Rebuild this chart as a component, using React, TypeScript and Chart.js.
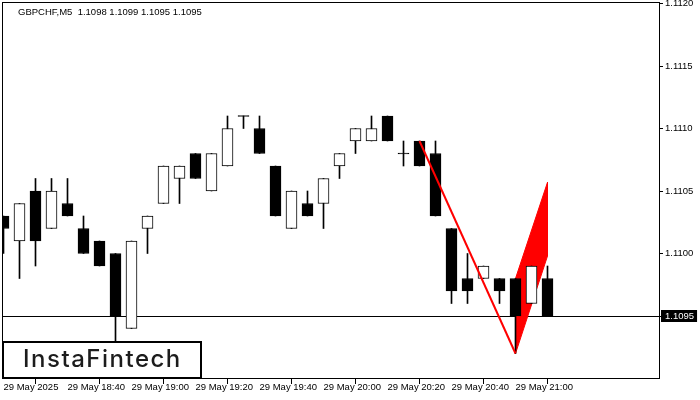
import React, { useEffect, useRef } from 'react';
import { Chart, registerables } from 'chart.js';

Chart.register(...registerables);

// ---------- data ----------
const symbol = 'GBPCHF,M5';
const candleTimes = [
  '18:20', '18:25', '18:30', '18:35', '18:40', '18:45', '18:50', '18:55',
  '19:00', '19:05', '19:10', '19:15', '19:20', '19:25', '19:30', '19:35',
  '19:40', '19:45', '19:50', '19:55', '20:00', '20:05', '20:10', '20:15',
  '20:20', '20:25', '20:30', '20:35', '20:40', '20:45', '20:50', '20:55',
  '21:00', '21:05', '21:10',
];
const opens = [
  1.1103, 1.1101, 1.1105, 1.1102, 1.1104, 1.1102, 1.1101, 1.1100, 1.1094, 1.1102,
  1.1104, 1.1106, 1.1108, 1.1105, 1.1107, 1.1111, 1.1110, 1.1107, 1.1102, 1.1104,
  1.1104, 1.1107, 1.1109, 1.1109, 1.1111, 1.1108, 1.1109, 1.1108, 1.1102, 1.1098,
  1.1098, 1.1098, 1.1098, 1.1096, 1.1098,
];
const highs = [
  1.1103, 1.1104, 1.1106, 1.1106, 1.1106, 1.1103, 1.1101, 1.1100, 1.1101, 1.1103,
  1.1107, 1.1107, 1.1108, 1.1108, 1.1111, 1.1111, 1.1111, 1.1107, 1.1105, 1.1105,
  1.1106, 1.1108, 1.1110, 1.1111, 1.1111, 1.1109, 1.1109, 1.1109, 1.1102, 1.1100,
  1.1099, 1.1098, 1.1098, 1.1099, 1.1099,
];
const lows = [
  1.1100, 1.1098, 1.1099, 1.1102, 1.1103, 1.1100, 1.1099, 1.1093, 1.1094, 1.1100,
  1.1104, 1.1104, 1.1106, 1.1105, 1.1107, 1.1110, 1.1108, 1.1103, 1.1102, 1.1103,
  1.1102, 1.1106, 1.1108, 1.1109, 1.1109, 1.1107, 1.1107, 1.1103, 1.1096, 1.1096,
  1.1098, 1.1096, 1.1092, 1.1096, 1.1095,
];
const closes = [
  1.1102, 1.1104, 1.1101, 1.1105, 1.1103, 1.1100, 1.1099, 1.1095, 1.1101, 1.1103,
  1.1107, 1.1107, 1.1106, 1.1108, 1.1110, 1.1111, 1.1108, 1.1103, 1.1105, 1.1103,
  1.1106, 1.1108, 1.1110, 1.1110, 1.1109, 1.1108, 1.1107, 1.1103, 1.1097, 1.1097,
  1.1099, 1.1097, 1.1095, 1.1099, 1.1095,
];
const xTickIndices = [0, 4, 8, 12, 16, 20, 24, 28, 32];
const xTickLabels = [
  '29 May 2025', '29 May 18:40', '29 May 19:00', '29 May 19:20', '29 May 19:40',
  '29 May 20:00', '29 May 20:20', '29 May 20:40', '29 May 21:00',
];
const yTickValues = [1.1095, 1.11, 1.1105, 1.111, 1.1115, 1.112];
const currentPrice = 1.1095;
const poleX = [26, 32];
const poleY = [1.1109, 1.1092];
const flagX = [32, 32, 34, 34, 32];
const flagY = [1.1092, 1.1098, 1.11057, 1.10998, 1.1092];
const logoText = 'InstaFintech';

const AXIS_FONT = { family: '"Liberation Sans", Arial, sans-serif', size: 9.5 };
const isCurrent = (v: number) => Math.abs(v - currentPrice) < 1e-7;

const overlayPlugin = {
  id: 'overlay',
  afterDraw(chart: any) {
    const { ctx, chartArea } = chart;
    ctx.save();
    // frame
    ctx.strokeStyle = '#000';
    ctx.lineWidth = 1;
    ctx.strokeRect(
      chartArea.left - 0.5,
      chartArea.top - 0.5,
      chartArea.right - chartArea.left + 1,
      chartArea.bottom - chartArea.top + 1
    );
    // header
    const n = closes.length - 1;
    ctx.fillStyle = '#000';
    ctx.font = '9.5px "Liberation Sans", Arial, sans-serif';
    ctx.textBaseline = 'alphabetic';
    ctx.textAlign = 'left';
    ctx.fillText(
      `${symbol}  ${opens[n].toFixed(4)} ${highs[n].toFixed(4)} ${lows[n].toFixed(4)} ${closes[n].toFixed(4)}`,
      18,
      15
    );
    // logo
    ctx.fillStyle = '#fff';
    ctx.fillRect(3, 342, 198, 36);
    ctx.lineWidth = 2;
    ctx.strokeStyle = '#000';
    ctx.strokeRect(3, 342, 198, 36);
    ctx.fillStyle = '#1c1c1c';
    ctx.font = '500 24px Inter, "Open Sans", sans-serif';
    try { (ctx as any).letterSpacing = '1.5px'; } catch (e) { /* ignore */ }
    ctx.fillText(logoText, 23, 367);
    try { (ctx as any).letterSpacing = '0px'; } catch (e) { /* ignore */ }
    ctx.restore();
  },
};

export default function App() {
  const ref = useRef<HTMLCanvasElement | null>(null);

  useEffect(() => {
    if (!ref.current) return;
    const pxPerUnitX = 16;
    const xMin = -1 / 32;
    const xMax = xMin + 656 / pxPerUnitX;
    const yMax = 1.112 + 0.5 / 125000;
    const yMin = 1.112 - 374.5 / 125000;

    const wickData = highs.map((h, i) => ({ x: i, y: [lows[i], h] }));
    const bodyData = opens.map((o, i) => {
      const c = closes[i];
      if (o === c) return { x: i, y: [o - 0.000004, o + 0.000004] };
      return { x: i, y: [Math.min(o, c), Math.max(o, c)] };
    });
    const bodyColors = opens.map((o, i) => (closes[i] > o ? '#ffffff' : '#000000'));

    const chart = new Chart(ref.current, {
      type: 'bar',
      data: {
        labels: candleTimes,
        datasets: [
          {
            type: 'line',
            label: 'flag',
            data: flagX.map((x, i) => ({ x, y: flagY[i] })),
            borderColor: '#ff0000',
            backgroundColor: '#ff0000',
            borderWidth: 1,
            pointRadius: 0,
            fill: 'shape',
            tension: 0,
            order: 10,
          } as any,
          {
            type: 'bar',
            label: 'wick',
            data: wickData,
            backgroundColor: '#000',
            borderWidth: 0,
            barThickness: 1,
            grouped: false,
            order: 5,
          } as any,
          {
            type: 'bar',
            label: 'body',
            data: bodyData,
            backgroundColor: bodyColors,
            borderColor: '#000',
            borderWidth: 1,
            borderSkipped: false,
            barThickness: 11,
            grouped: false,
            order: 4,
          } as any,
          {
            type: 'line',
            label: 'pole',
            data: poleX.map((x, i) => ({ x, y: poleY[i] })),
            borderColor: '#ff0000',
            borderWidth: 2,
            pointRadius: 0,
            fill: false,
            tension: 0,
            order: 1,
          } as any,
        ],
      },
      options: {
        animation: false,
        responsive: false,
        maintainAspectRatio: false,
        layout: { padding: { left: 3, top: 3, right: 0, bottom: 0 } },
        plugins: { legend: { display: false }, tooltip: { enabled: false } },
        scales: {
          x: {
            type: 'linear',
            min: xMin,
            max: xMax,
            offset: false,
            position: 'bottom',
            border: { display: false },
            grid: { drawOnChartArea: false, drawTicks: true, tickLength: 6, color: '#000', lineWidth: 1 },
            ticks: {
              autoSkip: false,
              maxRotation: 0,
              minRotation: 0,
              align: 'start',
              padding: -2,
              color: '#000',
              font: AXIS_FONT,
              callback: (_v: any, idx: number) => xTickLabels[idx] ?? '',
            },
            afterBuildTicks: (s: any) => {
              s.ticks = xTickIndices.map((v) => ({ value: v }));
            },
            afterFit: (s: any) => {
              s.height = 22;
              s.paddingLeft = 0;
              s.paddingRight = 0;
              s.paddingTop = 0;
              s.paddingBottom = 0;
            },
          },
          y: {
            type: 'linear',
            position: 'right',
            min: yMin,
            max: yMax,
            border: { display: false },
            grid: {
              drawOnChartArea: true,
              drawTicks: true,
              tickLength: 4,
              lineWidth: 1,
              color: (c: any) => (c.tick && isCurrent(c.tick.value) ? '#000' : 'rgba(0,0,0,0)'),
              tickColor: '#000',
            },
            ticks: {
              padding: 2,
              font: AXIS_FONT,
              color: (c: any) => (c.tick && isCurrent(c.tick.value) ? '#fff' : '#000'),
              showLabelBackdrop: (c: any) => !!(c.tick && isCurrent(c.tick.value)),
              backdropColor: '#000',
              backdropPadding: { left: 4, right: 3, top: 0.3, bottom: 0.3 },
              callback: (v: any) => Number(v).toFixed(4),
            },
            afterBuildTicks: (s: any) => {
              s.ticks = yTickValues.map((v) => ({ value: v }));
            },
            afterFit: (s: any) => {
              s.width = 41;
              s.paddingLeft = 0;
              s.paddingRight = 0;
              s.paddingTop = 0;
              s.paddingBottom = 0;
            },
          },
        },
      } as any,
      plugins: [overlayPlugin],
    });
    return () => chart.destroy();
  }, []);

  return (
    <div style={{ position: 'fixed', left: 0, top: 0, width: 700, height: 400, background: '#fff' }}>
      <canvas ref={ref} width={700} height={400} style={{ display: 'block' }} />
    </div>
  );
}
